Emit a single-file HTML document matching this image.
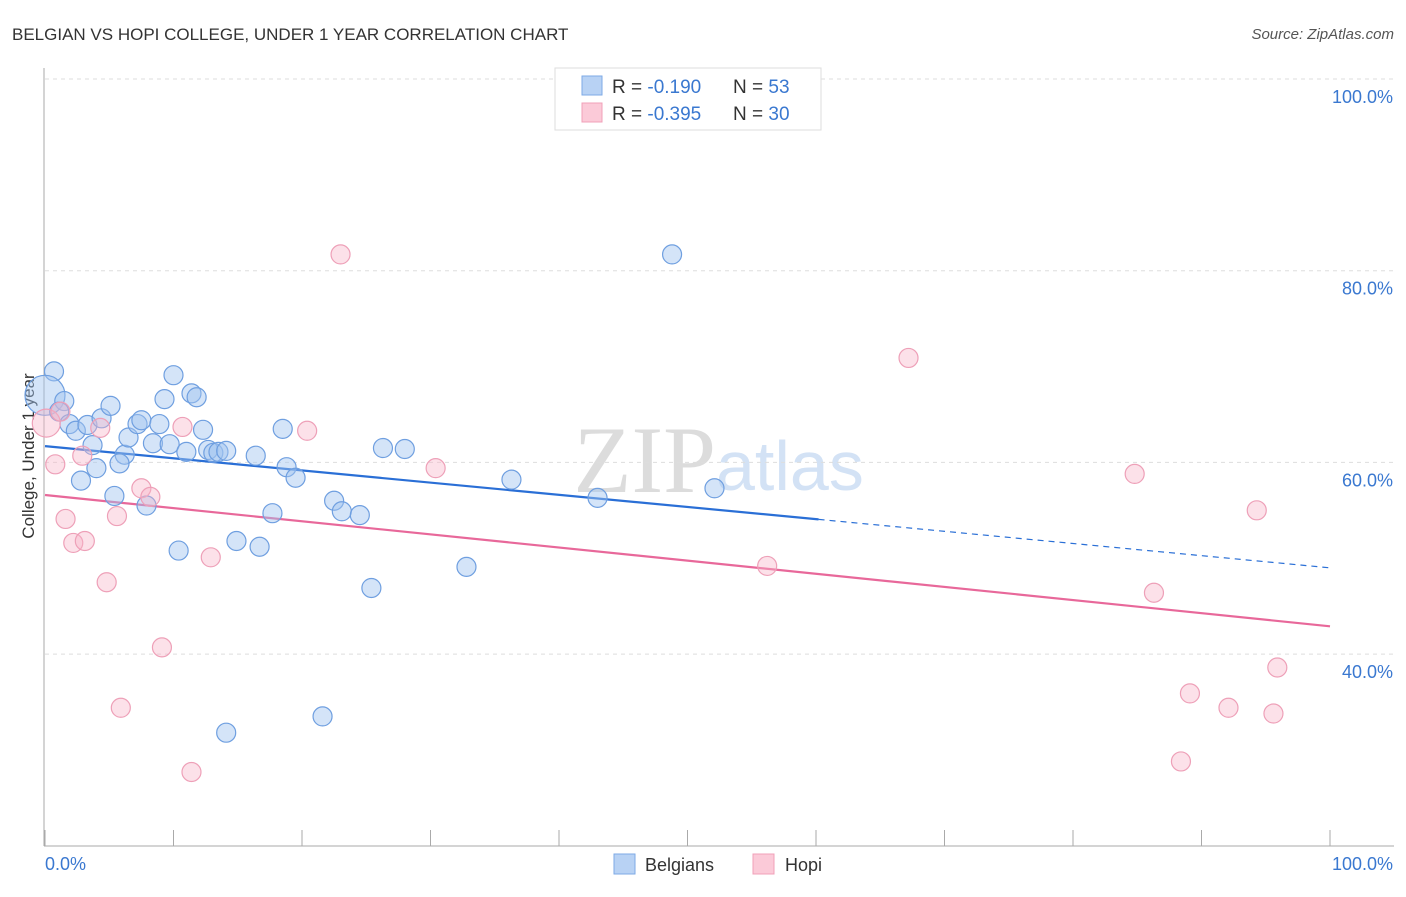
<!DOCTYPE html>
<html><head><meta charset="utf-8"><style>
body{margin:0;background:#fff;font-family:"Liberation Sans",sans-serif;}
</style></head><body>
<svg width="1406" height="892" xmlns="http://www.w3.org/2000/svg" id="svg">
<text x="12" y="40" font-size="17" fill="#333">BELGIAN VS HOPI COLLEGE, UNDER 1 YEAR CORRELATION CHART</text>
<text x="1394" y="39" font-size="15" fill="#555" font-style="italic" text-anchor="end">Source: ZipAtlas.com</text>
<text x="716" y="492" font-size="95" fill="#dcdcdc" text-anchor="end" font-family="Liberation Serif,serif">ZIP</text>
<text x="716" y="490" font-size="70" fill="#d3e2f5">atlas</text>
<line x1="44" y1="68" x2="44" y2="846" stroke="#aaa"/>
<line x1="44" y1="846" x2="1394" y2="846" stroke="#aaa"/>
<text x="34" y="456" font-size="17" fill="#333" text-anchor="middle" transform="rotate(-90 34 456)">College, Under 1 year</text>
<text x="45" y="870" font-size="18" fill="#3a78d0">0.0%</text>
<text x="1393" y="870" font-size="18" fill="#3a78d0" text-anchor="end">100.0%</text>
<g id="grid"></g><g id="lines"></g><g id="pts"></g>
<g>
<rect x="555" y="68" width="266" height="62" fill="#fff" stroke="#ddd"/>
<rect x="582" y="76" width="20" height="19" fill="#b8d2f4" stroke="#7eaae6"/>
<rect x="582" y="103" width="20" height="19" fill="#fbcad8" stroke="#f0a0b8"/>
<text x="612" y="93" font-size="19" fill="#333">R = <tspan fill="#3a78d0">-0.190</tspan><tspan x="733">N = </tspan><tspan fill="#3a78d0">53</tspan></text>
<text x="612" y="120" font-size="19" fill="#333">R = <tspan fill="#3a78d0">-0.395</tspan><tspan x="733">N = </tspan><tspan fill="#3a78d0">30</tspan></text>
</g>
<g>
<rect x="614" y="854" width="21" height="20" fill="#b8d2f4" stroke="#7eaae6"/>
<text x="645" y="871" font-size="18" fill="#333">Belgians</text>
<rect x="753" y="854" width="21" height="20" fill="#fbcad8" stroke="#f0a0b8"/>
<text x="785" y="871" font-size="18" fill="#333">Hopi</text>
</g>
</svg>
<script>
const yTicks=[100,80,60,40];
const xTicks=[0,10,20,30,40,50,60,70,80,90,100];
const belgX=[0.7,0,1.5,1.1,1.9,2.4,3.3,3.7,4.0,2.8,4.4,5.1,5.4,6.2,5.8,6.5,7.2,7.5,7.9,8.4,8.9,9.3,9.7,10.0,11.0,11.4,11.8,12.3,12.7,13.1,13.5,14.1,10.4,14.9,14.1,16.4,16.7,17.7,18.5,18.8,19.5,21.6,22.5,23.1,24.5,25.4,26.3,28.0,32.8,36.3,43.0,48.8,52.1];
const belgY=[69.5,67.0,66.4,65.3,64.0,63.3,63.9,61.8,59.4,58.1,64.6,65.9,56.5,60.8,59.9,62.6,64.0,64.4,55.5,62.0,64.0,66.6,61.9,69.1,61.1,67.2,66.8,63.4,61.3,61.0,61.1,61.2,50.8,51.8,31.8,60.7,51.2,54.7,63.5,59.5,58.4,33.5,56.0,54.9,54.5,46.9,61.5,61.4,49.1,58.2,56.3,81.7,57.3];
const hopiX=[0.1,1.2,0.8,1.6,2.2,3.1,2.9,4.3,4.8,5.6,5.9,7.5,8.2,9.1,10.7,11.4,12.9,20.4,23.0,30.4,56.2,67.2,84.8,86.3,89.1,88.4,92.1,94.3,95.6,95.9];
const hopiY=[64.1,65.3,59.8,54.1,51.6,51.8,60.7,63.6,47.5,54.4,34.4,57.3,56.4,40.7,63.7,27.7,50.1,63.3,81.7,59.4,49.2,70.9,58.8,46.4,35.9,28.8,34.4,55.0,33.8,38.6];
const belgTrend=[61.7,49.0];
const hopiTrend=[56.6,42.9];
const X=v=>45+v*12.85, Y=v=>79+(100-v)*9.585;
const NS="http://www.w3.org/2000/svg";
function mk(t,a,p){const e=document.createElementNS(NS,t);for(const k in a)e.setAttribute(k,a[k]);document.getElementById(p).appendChild(e);return e;}
yTicks.forEach(t=>{
 const l=mk('line',{x1:45,x2:1394,y1:Y(t),y2:Y(t),stroke:'#ddd','stroke-dasharray':'4,4'},'grid');
 
 
 const tx=mk('text',{x:1393,y:Y(t)+24,'font-size':18,fill:'#3a78d0','text-anchor':'end'},'grid');
 tx.textContent=t.toFixed(1)+'%';
 
 
});
xTicks.forEach((t,i)=>{
 const l=mk('line',{x1:X(t),x2:X(t),y1:830,y2:846,stroke:'#aaa'},'grid');
 
 
});
function trend(tr,col,split,name){
 const xe=split||100, ye=tr[0]+(tr[1]-tr[0])*xe/100;
 const l=mk('line',{x1:X(0),y1:Y(tr[0]),x2:X(xe),y2:Y(ye),stroke:col,'stroke-width':2.2},'lines');
 
 
 if(split){const d=mk('line',{x1:X(xe),y1:Y(ye),x2:X(100),y2:Y(tr[1]),stroke:col,'stroke-width':1.2,'stroke-dasharray':'6,5'},'lines');
 
 }
}
function pts(xs,ys,fill,stroke,name,bigIdx,big){
 xs.forEach((x,i)=>{
  const c=mk('circle',{cx:X(x),cy:Y(ys[i]),r:(i===bigIdx?big:9.5),fill:fill,stroke:stroke,'stroke-width':1.2},'pts');
  
  
 });
}
pts(belgX,belgY,'rgba(160,196,240,0.45)','#6f9fe0','belgian-point',1,20);
pts(hopiX,hopiY,'rgba(248,180,200,0.4)','#eea0b8','hopi-point',0,14);
trend(belgTrend,'#2a6fd6',60.2,'belgian-trend-line');
trend(hopiTrend,'#e8689a',null,'hopi-trend-line');
</script>
</body></html>
